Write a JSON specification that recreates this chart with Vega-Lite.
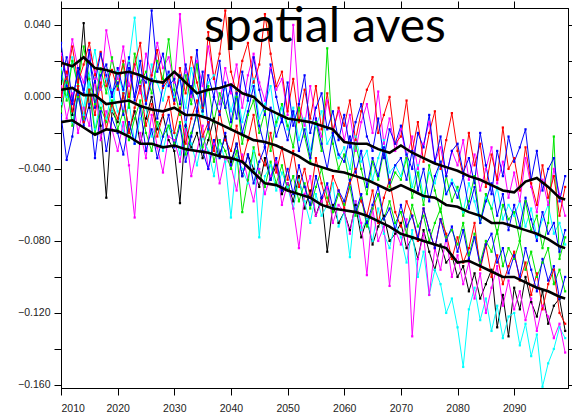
{
"$schema":"https://vega.github.io/schema/vega-lite/v6.json",
"width":507,"height":380,
"autosize":{"type":"none"},
"padding":{"left":61,"top":8,"right":4,"bottom":32},
"background":"white",
"config":{"view":{"stroke":"black","strokeWidth":1},"axis":{"grid":false,"domain":true,"domainColor":"black","tickColor":"black","labelFont":"Liberation Sans","labelFontSize":10.5,"labelColor":"#222","tickSize":7,"title":null}},
"datasets":{
"thin":[
{"s":"k1","x":2010,"y":-0.002},{"s":"k1","x":2011,"y":0.012},{"s":"k1","x":2012,"y":-0.010},{"s":"k1","x":2013,"y":0.006},{"s":"k1","x":2014,"y":0.041},{"s":"k1","x":2015,"y":-0.006},{"s":"k1","x":2016,"y":0.010},{"s":"k1","x":2017,"y":-0.016},{"s":"k1","x":2018,"y":-0.056},{"s":"k1","x":2019,"y":-0.008},
{"s":"k1","x":2020,"y":-0.014},{"s":"k1","x":2021,"y":0.002},{"s":"k1","x":2022,"y":-0.020},{"s":"k1","x":2023,"y":-0.008},{"s":"k1","x":2024,"y":-0.026},{"s":"k1","x":2025,"y":-0.012},{"s":"k1","x":2026,"y":0},{"s":"k1","x":2027,"y":-0.018},{"s":"k1","x":2028,"y":-0.010},{"s":"k1","x":2029,"y":-0.024},
{"s":"k1","x":2030,"y":-0.030},{"s":"k1","x":2031,"y":-0.059},{"s":"k1","x":2032,"y":-0.016},{"s":"k1","x":2033,"y":-0.028},{"s":"k1","x":2034,"y":-0.020},{"s":"k1","x":2035,"y":-0.034},{"s":"k1","x":2036,"y":-0.024},{"s":"k1","x":2037,"y":-0.012},{"s":"k1","x":2038,"y":-0.032},{"s":"k1","x":2039,"y":-0.022},
{"s":"k1","x":2040,"y":-0.036},{"s":"k1","x":2041,"y":-0.026},{"s":"k1","x":2042,"y":-0.044},{"s":"k1","x":2043,"y":-0.032},{"s":"k1","x":2044,"y":-0.040},{"s":"k1","x":2045,"y":-0.050},{"s":"k1","x":2046,"y":-0.034},{"s":"k1","x":2047,"y":-0.046},{"s":"k1","x":2048,"y":-0.038},{"s":"k1","x":2049,"y":-0.054},
{"s":"k1","x":2050,"y":-0.048},{"s":"k1","x":2051,"y":-0.058},{"s":"k1","x":2052,"y":-0.044},{"s":"k1","x":2053,"y":-0.062},{"s":"k1","x":2054,"y":-0.052},{"s":"k1","x":2055,"y":-0.066},{"s":"k1","x":2056,"y":-0.056},{"s":"k1","x":2057,"y":-0.086},{"s":"k1","x":2058,"y":-0.060},{"s":"k1","x":2059,"y":-0.070},
{"s":"k1","x":2060,"y":-0.064},{"s":"k1","x":2061,"y":-0.074},{"s":"k1","x":2062,"y":-0.060},{"s":"k1","x":2063,"y":-0.078},{"s":"k1","x":2064,"y":-0.068},{"s":"k1","x":2065,"y":-0.082},{"s":"k1","x":2066,"y":-0.072},{"s":"k1","x":2067,"y":-0.066},{"s":"k1","x":2068,"y":-0.080},{"s":"k1","x":2069,"y":-0.076},
{"s":"k1","x":2070,"y":-0.070},{"s":"k1","x":2071,"y":-0.084},{"s":"k1","x":2072,"y":-0.078},{"s":"k1","x":2073,"y":-0.090},{"s":"k1","x":2074,"y":-0.074},{"s":"k1","x":2075,"y":-0.086},{"s":"k1","x":2076,"y":-0.096},{"s":"k1","x":2077,"y":-0.082},{"s":"k1","x":2078,"y":-0.092},{"s":"k1","x":2079,"y":-0.088},
{"s":"k1","x":2080,"y":-0.100},{"s":"k1","x":2081,"y":-0.094},{"s":"k1","x":2082,"y":-0.108},{"s":"k1","x":2083,"y":-0.098},{"s":"k1","x":2084,"y":-0.112},{"s":"k1","x":2085,"y":-0.104},{"s":"k1","x":2086,"y":-0.096},{"s":"k1","x":2087,"y":-0.128},{"s":"k1","x":2088,"y":-0.110},{"s":"k1","x":2089,"y":-0.133},
{"s":"k1","x":2090,"y":-0.106},{"s":"k1","x":2091,"y":-0.118},{"s":"k1","x":2092,"y":-0.100},{"s":"k1","x":2093,"y":-0.114},{"s":"k1","x":2094,"y":-0.122},{"s":"k1","x":2095,"y":-0.108},{"s":"k1","x":2096,"y":-0.126},{"s":"k1","x":2097,"y":-0.116},{"s":"k1","x":2098,"y":-0.112},{"s":"k1","x":2099,"y":-0.130},
{"s":"c1","x":2010,"y":-0.004},{"s":"c1","x":2011,"y":0.010},{"s":"c1","x":2012,"y":-0.014},{"s":"c1","x":2013,"y":0.002},{"s":"c1","x":2014,"y":-0.010},{"s":"c1","x":2015,"y":0.008},{"s":"c1","x":2016,"y":-0.018},{"s":"c1","x":2017,"y":-0.002},{"s":"c1","x":2018,"y":-0.012},{"s":"c1","x":2019,"y":0.004},
{"s":"c1","x":2020,"y":-0.008},{"s":"c1","x":2021,"y":-0.020},{"s":"c1","x":2022,"y":-0.002},{"s":"c1","x":2023,"y":-0.026},{"s":"c1","x":2024,"y":-0.012},{"s":"c1","x":2025,"y":-0.006},{"s":"c1","x":2026,"y":-0.022},{"s":"c1","x":2027,"y":-0.014},{"s":"c1","x":2028,"y":-0.030},{"s":"c1","x":2029,"y":-0.016},
{"s":"c1","x":2030,"y":-0.020},{"s":"c1","x":2031,"y":-0.032},{"s":"c1","x":2032,"y":-0.014},{"s":"c1","x":2033,"y":-0.026},{"s":"c1","x":2034,"y":-0.038},{"s":"c1","x":2035,"y":-0.022},{"s":"c1","x":2036,"y":-0.030},{"s":"c1","x":2037,"y":-0.044},{"s":"c1","x":2038,"y":-0.024},{"s":"c1","x":2039,"y":-0.036},
{"s":"c1","x":2040,"y":-0.067},{"s":"c1","x":2041,"y":-0.034},{"s":"c1","x":2042,"y":-0.040},{"s":"c1","x":2043,"y":-0.048},{"s":"c1","x":2044,"y":-0.030},{"s":"c1","x":2045,"y":-0.078},{"s":"c1","x":2046,"y":-0.044},{"s":"c1","x":2047,"y":-0.038},{"s":"c1","x":2048,"y":-0.052},{"s":"c1","x":2049,"y":-0.042},
{"s":"c1","x":2050,"y":-0.050},{"s":"c1","x":2051,"y":-0.062},{"s":"c1","x":2052,"y":-0.046},{"s":"c1","x":2053,"y":-0.058},{"s":"c1","x":2054,"y":-0.070},{"s":"c1","x":2055,"y":-0.054},{"s":"c1","x":2056,"y":-0.066},{"s":"c1","x":2057,"y":-0.060},{"s":"c1","x":2058,"y":-0.048},{"s":"c1","x":2059,"y":-0.072},
{"s":"c1","x":2060,"y":-0.064},{"s":"c1","x":2061,"y":-0.089},{"s":"c1","x":2062,"y":-0.058},{"s":"c1","x":2063,"y":-0.074},{"s":"c1","x":2064,"y":-0.068},{"s":"c1","x":2065,"y":-0.080},{"s":"c1","x":2066,"y":-0.062},{"s":"c1","x":2067,"y":-0.076},{"s":"c1","x":2068,"y":-0.084},{"s":"c1","x":2069,"y":-0.070},
{"s":"c1","x":2070,"y":-0.078},{"s":"c1","x":2071,"y":-0.092},{"s":"c1","x":2072,"y":-0.074},{"s":"c1","x":2073,"y":-0.100},{"s":"c1","x":2074,"y":-0.086},{"s":"c1","x":2075,"y":-0.110},{"s":"c1","x":2076,"y":-0.096},{"s":"c1","x":2077,"y":-0.104},{"s":"c1","x":2078,"y":-0.120},{"s":"c1","x":2079,"y":-0.112},
{"s":"c1","x":2080,"y":-0.128},{"s":"c1","x":2081,"y":-0.150},{"s":"c1","x":2082,"y":-0.118},{"s":"c1","x":2083,"y":-0.106},{"s":"c1","x":2084,"y":-0.124},{"s":"c1","x":2085,"y":-0.112},{"s":"c1","x":2086,"y":-0.130},{"s":"c1","x":2087,"y":-0.116},{"s":"c1","x":2088,"y":-0.134},{"s":"c1","x":2089,"y":-0.122},
{"s":"c1","x":2090,"y":-0.120},{"s":"c1","x":2091,"y":-0.138},{"s":"c1","x":2092,"y":-0.126},{"s":"c1","x":2093,"y":-0.144},{"s":"c1","x":2094,"y":-0.132},{"s":"c1","x":2095,"y":-0.161},{"s":"c1","x":2096,"y":-0.148},{"s":"c1","x":2097,"y":-0.140},{"s":"c1","x":2098,"y":-0.128},{"s":"c1","x":2099,"y":-0.134},
{"s":"c2","x":2010,"y":0.016},{"s":"c2","x":2011,"y":0},{"s":"c2","x":2012,"y":0.022},{"s":"c2","x":2013,"y":0.006},{"s":"c2","x":2014,"y":-0.006},{"s":"c2","x":2015,"y":0.012},{"s":"c2","x":2016,"y":0.026},{"s":"c2","x":2017,"y":0.004},{"s":"c2","x":2018,"y":0.010},{"s":"c2","x":2019,"y":-0.008},
{"s":"c2","x":2020,"y":0.014},{"s":"c2","x":2021,"y":0.002},{"s":"c2","x":2022,"y":0.020},{"s":"c2","x":2023,"y":0.044},{"s":"c2","x":2024,"y":0.006},{"s":"c2","x":2025,"y":-0.004},{"s":"c2","x":2026,"y":0.018},{"s":"c2","x":2027,"y":0.008},{"s":"c2","x":2028,"y":-0.002},{"s":"c2","x":2029,"y":0.012},
{"s":"c2","x":2030,"y":0},{"s":"c2","x":2031,"y":0.010},{"s":"c2","x":2032,"y":-0.006},{"s":"c2","x":2033,"y":0.016},{"s":"c2","x":2034,"y":0.002},{"s":"c2","x":2035,"y":-0.010},{"s":"c2","x":2036,"y":0.008},{"s":"c2","x":2037,"y":0.012},{"s":"c2","x":2038,"y":-0.004},{"s":"c2","x":2039,"y":0.006},
{"s":"c2","x":2040,"y":-0.008},{"s":"c2","x":2041,"y":0.004},{"s":"c2","x":2042,"y":-0.014},{"s":"c2","x":2043,"y":-0.002},{"s":"c2","x":2044,"y":0.010},{"s":"c2","x":2045,"y":-0.012},{"s":"c2","x":2046,"y":-0.004},{"s":"c2","x":2047,"y":0.006},{"s":"c2","x":2048,"y":-0.016},{"s":"c2","x":2049,"y":-0.006},
{"s":"c2","x":2050,"y":-0.018},{"s":"c2","x":2051,"y":-0.006},{"s":"c2","x":2052,"y":-0.024},{"s":"c2","x":2053,"y":-0.012},{"s":"c2","x":2054,"y":-0.030},{"s":"c2","x":2055,"y":-0.016},{"s":"c2","x":2056,"y":-0.008},{"s":"c2","x":2057,"y":-0.026},{"s":"c2","x":2058,"y":-0.020},{"s":"c2","x":2059,"y":-0.034},
{"s":"c2","x":2060,"y":-0.028},{"s":"c2","x":2061,"y":-0.040},{"s":"c2","x":2062,"y":-0.022},{"s":"c2","x":2063,"y":-0.036},{"s":"c2","x":2064,"y":-0.030},{"s":"c2","x":2065,"y":-0.046},{"s":"c2","x":2066,"y":-0.034},{"s":"c2","x":2067,"y":-0.024},{"s":"c2","x":2068,"y":-0.042},{"s":"c2","x":2069,"y":-0.038},
{"s":"c2","x":2070,"y":-0.044},{"s":"c2","x":2071,"y":-0.032},{"s":"c2","x":2072,"y":-0.050},{"s":"c2","x":2073,"y":-0.038},{"s":"c2","x":2074,"y":-0.056},{"s":"c2","x":2075,"y":-0.042},{"s":"c2","x":2076,"y":-0.048},{"s":"c2","x":2077,"y":-0.036},{"s":"c2","x":2078,"y":-0.054},{"s":"c2","x":2079,"y":-0.046},
{"s":"c2","x":2080,"y":-0.052},{"s":"c2","x":2081,"y":-0.064},{"s":"c2","x":2082,"y":-0.048},{"s":"c2","x":2083,"y":-0.058},{"s":"c2","x":2084,"y":-0.070},{"s":"c2","x":2085,"y":-0.056},{"s":"c2","x":2086,"y":-0.062},{"s":"c2","x":2087,"y":-0.050},{"s":"c2","x":2088,"y":-0.068},{"s":"c2","x":2089,"y":-0.060},
{"s":"c2","x":2090,"y":-0.066},{"s":"c2","x":2091,"y":-0.058},{"s":"c2","x":2092,"y":-0.072},{"s":"c2","x":2093,"y":-0.062},{"s":"c2","x":2094,"y":-0.078},{"s":"c2","x":2095,"y":-0.068},{"s":"c2","x":2096,"y":-0.060},{"s":"c2","x":2097,"y":-0.076},{"s":"c2","x":2098,"y":-0.070},{"s":"c2","x":2099,"y":-0.082},
{"s":"m1","x":2010,"y":0.006},{"s":"m1","x":2011,"y":-0.012},{"s":"m1","x":2012,"y":0.002},{"s":"m1","x":2013,"y":-0.020},{"s":"m1","x":2014,"y":-0.006},{"s":"m1","x":2015,"y":-0.016},{"s":"m1","x":2016,"y":0.010},{"s":"m1","x":2017,"y":-0.024},{"s":"m1","x":2018,"y":-0.008},{"s":"m1","x":2019,"y":-0.018},
{"s":"m1","x":2020,"y":-0.030},{"s":"m1","x":2021,"y":-0.014},{"s":"m1","x":2022,"y":-0.038},{"s":"m1","x":2023,"y":-0.067},{"s":"m1","x":2024,"y":-0.020},{"s":"m1","x":2025,"y":-0.034},{"s":"m1","x":2026,"y":-0.010},{"s":"m1","x":2027,"y":-0.028},{"s":"m1","x":2028,"y":-0.042},{"s":"m1","x":2029,"y":-0.022},
{"s":"m1","x":2030,"y":-0.024},{"s":"m1","x":2031,"y":-0.036},{"s":"m1","x":2032,"y":-0.018},{"s":"m1","x":2033,"y":-0.044},{"s":"m1","x":2034,"y":-0.030},{"s":"m1","x":2035,"y":-0.016},{"s":"m1","x":2036,"y":-0.040},{"s":"m1","x":2037,"y":-0.026},{"s":"m1","x":2038,"y":-0.048},{"s":"m1","x":2039,"y":-0.034},
{"s":"m1","x":2040,"y":-0.038},{"s":"m1","x":2041,"y":-0.052},{"s":"m1","x":2042,"y":-0.032},{"s":"m1","x":2043,"y":-0.046},{"s":"m1","x":2044,"y":-0.058},{"s":"m1","x":2045,"y":-0.040},{"s":"m1","x":2046,"y":-0.054},{"s":"m1","x":2047,"y":-0.044},{"s":"m1","x":2048,"y":-0.036},{"s":"m1","x":2049,"y":-0.060},
{"s":"m1","x":2050,"y":-0.048},{"s":"m1","x":2051,"y":-0.062},{"s":"m1","x":2052,"y":-0.084},{"s":"m1","x":2053,"y":-0.054},{"s":"m1","x":2054,"y":-0.044},{"s":"m1","x":2055,"y":-0.066},{"s":"m1","x":2056,"y":-0.058},{"s":"m1","x":2057,"y":-0.050},{"s":"m1","x":2058,"y":-0.070},{"s":"m1","x":2059,"y":-0.060},
{"s":"m1","x":2060,"y":-0.064},{"s":"m1","x":2061,"y":-0.076},{"s":"m1","x":2062,"y":-0.058},{"s":"m1","x":2063,"y":-0.070},{"s":"m1","x":2064,"y":-0.099},{"s":"m1","x":2065,"y":-0.062},{"s":"m1","x":2066,"y":-0.080},{"s":"m1","x":2067,"y":-0.072},{"s":"m1","x":2068,"y":-0.105},{"s":"m1","x":2069,"y":-0.074},
{"s":"m1","x":2070,"y":-0.082},{"s":"m1","x":2071,"y":-0.068},{"s":"m1","x":2072,"y":-0.133},{"s":"m1","x":2073,"y":-0.090},{"s":"m1","x":2074,"y":-0.076},{"s":"m1","x":2075,"y":-0.110},{"s":"m1","x":2076,"y":-0.084},{"s":"m1","x":2077,"y":-0.096},{"s":"m1","x":2078,"y":-0.078},{"s":"m1","x":2079,"y":-0.100},
{"s":"m1","x":2080,"y":-0.088},{"s":"m1","x":2081,"y":-0.104},{"s":"m1","x":2082,"y":-0.092},{"s":"m1","x":2083,"y":-0.112},{"s":"m1","x":2084,"y":-0.098},{"s":"m1","x":2085,"y":-0.120},{"s":"m1","x":2086,"y":-0.106},{"s":"m1","x":2087,"y":-0.094},{"s":"m1","x":2088,"y":-0.116},{"s":"m1","x":2089,"y":-0.102},
{"s":"m1","x":2090,"y":-0.118},{"s":"m1","x":2091,"y":-0.108},{"s":"m1","x":2092,"y":-0.124},{"s":"m1","x":2093,"y":-0.112},{"s":"m1","x":2094,"y":-0.130},{"s":"m1","x":2095,"y":-0.116},{"s":"m1","x":2096,"y":-0.122},{"s":"m1","x":2097,"y":-0.134},{"s":"m1","x":2098,"y":-0.126},{"s":"m1","x":2099,"y":-0.142},
{"s":"m2","x":2010,"y":0.024},{"s":"m2","x":2011,"y":0.012},{"s":"m2","x":2012,"y":0.032},{"s":"m2","x":2013,"y":0.016},{"s":"m2","x":2014,"y":0.008},{"s":"m2","x":2015,"y":0.026},{"s":"m2","x":2016,"y":0.014},{"s":"m2","x":2017,"y":0.004},{"s":"m2","x":2018,"y":0.037},{"s":"m2","x":2019,"y":0.020},
{"s":"m2","x":2020,"y":0.010},{"s":"m2","x":2021,"y":0.028},{"s":"m2","x":2022,"y":0.006},{"s":"m2","x":2023,"y":0.018},{"s":"m2","x":2024,"y":0.002},{"s":"m2","x":2025,"y":0.024},{"s":"m2","x":2026,"y":0.012},{"s":"m2","x":2027,"y":0.030},{"s":"m2","x":2028,"y":0.016},{"s":"m2","x":2029,"y":0.022},
{"s":"m2","x":2030,"y":0.008},{"s":"m2","x":2031,"y":0.046},{"s":"m2","x":2032,"y":0.014},{"s":"m2","x":2033,"y":0},{"s":"m2","x":2034,"y":0.020},{"s":"m2","x":2035,"y":0.006},{"s":"m2","x":2036,"y":0.028},{"s":"m2","x":2037,"y":0.010},{"s":"m2","x":2038,"y":-0.004},{"s":"m2","x":2039,"y":0.016},
{"s":"m2","x":2040,"y":0.002},{"s":"m2","x":2041,"y":0.018},{"s":"m2","x":2042,"y":-0.006},{"s":"m2","x":2043,"y":0.012},{"s":"m2","x":2044,"y":0.024},{"s":"m2","x":2045,"y":0.008},{"s":"m2","x":2046,"y":-0.002},{"s":"m2","x":2047,"y":0.016},{"s":"m2","x":2048,"y":0.004},{"s":"m2","x":2049,"y":0.010},
{"s":"m2","x":2050,"y":-0.010},{"s":"m2","x":2051,"y":0.040},{"s":"m2","x":2052,"y":-0.004},{"s":"m2","x":2053,"y":-0.016},{"s":"m2","x":2054,"y":0.006},{"s":"m2","x":2055,"y":-0.012},{"s":"m2","x":2056,"y":-0.022},{"s":"m2","x":2057,"y":-0.002},{"s":"m2","x":2058,"y":-0.018},{"s":"m2","x":2059,"y":-0.008},
{"s":"m2","x":2060,"y":-0.024},{"s":"m2","x":2061,"y":-0.010},{"s":"m2","x":2062,"y":-0.030},{"s":"m2","x":2063,"y":-0.014},{"s":"m2","x":2064,"y":-0.004},{"s":"m2","x":2065,"y":-0.020},{"s":"m2","x":2066,"y":0.003},{"s":"m2","x":2067,"y":-0.026},{"s":"m2","x":2068,"y":-0.012},{"s":"m2","x":2069,"y":-0.030},
{"s":"m2","x":2070,"y":-0.018},{"s":"m2","x":2071,"y":-0.034},{"s":"m2","x":2072,"y":-0.022},{"s":"m2","x":2073,"y":-0.040},{"s":"m2","x":2074,"y":-0.026},{"s":"m2","x":2075,"y":-0.014},{"s":"m2","x":2076,"y":-0.036},{"s":"m2","x":2077,"y":-0.028},{"s":"m2","x":2078,"y":-0.044},{"s":"m2","x":2079,"y":-0.030},
{"s":"m2","x":2080,"y":-0.038},{"s":"m2","x":2081,"y":-0.024},{"s":"m2","x":2082,"y":-0.046},{"s":"m2","x":2083,"y":-0.032},{"s":"m2","x":2084,"y":-0.052},{"s":"m2","x":2085,"y":-0.040},{"s":"m2","x":2086,"y":-0.028},{"s":"m2","x":2087,"y":-0.048},{"s":"m2","x":2088,"y":-0.036},{"s":"m2","x":2089,"y":-0.056},
{"s":"m2","x":2090,"y":-0.042},{"s":"m2","x":2091,"y":-0.058},{"s":"m2","x":2092,"y":-0.034},{"s":"m2","x":2093,"y":-0.050},{"s":"m2","x":2094,"y":-0.064},{"s":"m2","x":2095,"y":-0.046},{"s":"m2","x":2096,"y":-0.060},{"s":"m2","x":2097,"y":-0.040},{"s":"m2","x":2098,"y":-0.054},{"s":"m2","x":2099,"y":-0.066},
{"s":"g1","x":2010,"y":0.014},{"s":"g1","x":2011,"y":-0.002},{"s":"g1","x":2012,"y":0.020},{"s":"g1","x":2013,"y":0.006},{"s":"g1","x":2014,"y":0.028},{"s":"g1","x":2015,"y":0.010},{"s":"g1","x":2016,"y":-0.004},{"s":"g1","x":2017,"y":0.016},{"s":"g1","x":2018,"y":0.002},{"s":"g1","x":2019,"y":0.022},
{"s":"g1","x":2020,"y":0.006},{"s":"g1","x":2021,"y":0.018},{"s":"g1","x":2022,"y":-0.006},{"s":"g1","x":2023,"y":0.024},{"s":"g1","x":2024,"y":0.008},{"s":"g1","x":2025,"y":0.014},{"s":"g1","x":2026,"y":0.002},{"s":"g1","x":2027,"y":0.020},{"s":"g1","x":2028,"y":0.010},{"s":"g1","x":2029,"y":0.032},
{"s":"g1","x":2030,"y":0.004},{"s":"g1","x":2031,"y":-0.010},{"s":"g1","x":2032,"y":0.012},{"s":"g1","x":2033,"y":-0.004},{"s":"g1","x":2034,"y":0.018},{"s":"g1","x":2035,"y":-0.008},{"s":"g1","x":2036,"y":0.006},{"s":"g1","x":2037,"y":-0.014},{"s":"g1","x":2038,"y":0.002},{"s":"g1","x":2039,"y":-0.006},
{"s":"g1","x":2040,"y":-0.018},{"s":"g1","x":2041,"y":0},{"s":"g1","x":2042,"y":-0.026},{"s":"g1","x":2043,"y":-0.010},{"s":"g1","x":2044,"y":-0.002},{"s":"g1","x":2045,"y":-0.020},{"s":"g1","x":2046,"y":-0.008},{"s":"g1","x":2047,"y":-0.030},{"s":"g1","x":2048,"y":-0.014},{"s":"g1","x":2049,"y":-0.004},
{"s":"g1","x":2050,"y":-0.016},{"s":"g1","x":2051,"y":-0.028},{"s":"g1","x":2052,"y":-0.006},{"s":"g1","x":2053,"y":-0.022},{"s":"g1","x":2054,"y":-0.036},{"s":"g1","x":2055,"y":-0.014},{"s":"g1","x":2056,"y":-0.030},{"s":"g1","x":2057,"y":0.027},{"s":"g1","x":2058,"y":-0.026},{"s":"g1","x":2059,"y":-0.040},
{"s":"g1","x":2060,"y":-0.032},{"s":"g1","x":2061,"y":-0.048},{"s":"g1","x":2062,"y":-0.026},{"s":"g1","x":2063,"y":-0.040},{"s":"g1","x":2064,"y":-0.054},{"s":"g1","x":2065,"y":-0.036},{"s":"g1","x":2066,"y":-0.046},{"s":"g1","x":2067,"y":-0.030},{"s":"g1","x":2068,"y":-0.050},{"s":"g1","x":2069,"y":-0.042},
{"s":"g1","x":2070,"y":-0.046},{"s":"g1","x":2071,"y":-0.034},{"s":"g1","x":2072,"y":-0.056},{"s":"g1","x":2073,"y":-0.042},{"s":"g1","x":2074,"y":-0.060},{"s":"g1","x":2075,"y":-0.038},{"s":"g1","x":2076,"y":-0.052},{"s":"g1","x":2077,"y":-0.064},{"s":"g1","x":2078,"y":-0.044},{"s":"g1","x":2079,"y":-0.058},
{"s":"g1","x":2080,"y":-0.050},{"s":"g1","x":2081,"y":-0.066},{"s":"g1","x":2082,"y":-0.058},{"s":"g1","x":2083,"y":-0.044},{"s":"g1","x":2084,"y":-0.070},{"s":"g1","x":2085,"y":-0.054},{"s":"g1","x":2086,"y":-0.062},{"s":"g1","x":2087,"y":-0.076},{"s":"g1","x":2088,"y":-0.060},{"s":"g1","x":2089,"y":-0.068},
{"s":"g1","x":2090,"y":-0.064},{"s":"g1","x":2091,"y":-0.080},{"s":"g1","x":2092,"y":-0.058},{"s":"g1","x":2093,"y":-0.074},{"s":"g1","x":2094,"y":-0.066},{"s":"g1","x":2095,"y":-0.084},{"s":"g1","x":2096,"y":-0.070},{"s":"g1","x":2097,"y":-0.022},{"s":"g1","x":2098,"y":-0.090},{"s":"g1","x":2099,"y":-0.078},
{"s":"g2","x":2010,"y":-0.008},{"s":"g2","x":2011,"y":0.008},{"s":"g2","x":2012,"y":-0.016},{"s":"g2","x":2013,"y":0},{"s":"g2","x":2014,"y":-0.012},{"s":"g2","x":2015,"y":0.004},{"s":"g2","x":2016,"y":-0.020},{"s":"g2","x":2017,"y":-0.006},{"s":"g2","x":2018,"y":-0.014},{"s":"g2","x":2019,"y":-0.002},
{"s":"g2","x":2020,"y":-0.018},{"s":"g2","x":2021,"y":-0.008},{"s":"g2","x":2022,"y":-0.024},{"s":"g2","x":2023,"y":-0.012},{"s":"g2","x":2024,"y":-0.002},{"s":"g2","x":2025,"y":-0.020},{"s":"g2","x":2026,"y":-0.030},{"s":"g2","x":2027,"y":-0.014},{"s":"g2","x":2028,"y":-0.022},{"s":"g2","x":2029,"y":-0.016},
{"s":"g2","x":2030,"y":-0.026},{"s":"g2","x":2031,"y":-0.014},{"s":"g2","x":2032,"y":-0.032},{"s":"g2","x":2033,"y":-0.020},{"s":"g2","x":2034,"y":-0.010},{"s":"g2","x":2035,"y":-0.028},{"s":"g2","x":2036,"y":-0.018},{"s":"g2","x":2037,"y":-0.036},{"s":"g2","x":2038,"y":-0.024},{"s":"g2","x":2039,"y":-0.030},
{"s":"g2","x":2040,"y":-0.040},{"s":"g2","x":2041,"y":-0.030},{"s":"g2","x":2042,"y":-0.064},{"s":"g2","x":2043,"y":-0.046},{"s":"g2","x":2044,"y":-0.028},{"s":"g2","x":2045,"y":-0.042},{"s":"g2","x":2046,"y":-0.050},{"s":"g2","x":2047,"y":-0.036},{"s":"g2","x":2048,"y":-0.048},{"s":"g2","x":2049,"y":-0.038},
{"s":"g2","x":2050,"y":-0.052},{"s":"g2","x":2051,"y":-0.044},{"s":"g2","x":2052,"y":-0.058},{"s":"g2","x":2053,"y":-0.048},{"s":"g2","x":2054,"y":-0.062},{"s":"g2","x":2055,"y":-0.050},{"s":"g2","x":2056,"y":-0.040},{"s":"g2","x":2057,"y":-0.056},{"s":"g2","x":2058,"y":-0.064},{"s":"g2","x":2059,"y":-0.054},
{"s":"g2","x":2060,"y":-0.060},{"s":"g2","x":2061,"y":-0.050},{"s":"g2","x":2062,"y":-0.066},{"s":"g2","x":2063,"y":-0.056},{"s":"g2","x":2064,"y":-0.072},{"s":"g2","x":2065,"y":-0.062},{"s":"g2","x":2066,"y":-0.054},{"s":"g2","x":2067,"y":-0.068},{"s":"g2","x":2068,"y":-0.058},{"s":"g2","x":2069,"y":-0.070},
{"s":"g2","x":2070,"y":-0.064},{"s":"g2","x":2071,"y":-0.076},{"s":"g2","x":2072,"y":-0.060},{"s":"g2","x":2073,"y":-0.072},{"s":"g2","x":2074,"y":-0.066},{"s":"g2","x":2075,"y":-0.080},{"s":"g2","x":2076,"y":-0.070},{"s":"g2","x":2077,"y":-0.062},{"s":"g2","x":2078,"y":-0.078},{"s":"g2","x":2079,"y":-0.074},
{"s":"g2","x":2080,"y":-0.082},{"s":"g2","x":2081,"y":-0.070},{"s":"g2","x":2082,"y":-0.088},{"s":"g2","x":2083,"y":-0.076},{"s":"g2","x":2084,"y":-0.092},{"s":"g2","x":2085,"y":-0.080},{"s":"g2","x":2086,"y":-0.086},{"s":"g2","x":2087,"y":-0.074},{"s":"g2","x":2088,"y":-0.094},{"s":"g2","x":2089,"y":-0.084},
{"s":"g2","x":2090,"y":-0.090},{"s":"g2","x":2091,"y":-0.080},{"s":"g2","x":2092,"y":-0.096},{"s":"g2","x":2093,"y":-0.086},{"s":"g2","x":2094,"y":-0.100},{"s":"g2","x":2095,"y":-0.092},{"s":"g2","x":2096,"y":-0.084},{"s":"g2","x":2097,"y":-0.104},{"s":"g2","x":2098,"y":-0.096},{"s":"g2","x":2099,"y":-0.108},
{"s":"r1","x":2010,"y":0.022},{"s":"r1","x":2011,"y":0.010},{"s":"r1","x":2012,"y":0.028},{"s":"r1","x":2013,"y":0.008},{"s":"r1","x":2014,"y":0.018},{"s":"r1","x":2015,"y":0.030},{"s":"r1","x":2016,"y":0.012},{"s":"r1","x":2017,"y":0.025},{"s":"r1","x":2018,"y":0.006},{"s":"r1","x":2019,"y":0.015},
{"s":"r1","x":2020,"y":0.004},{"s":"r1","x":2021,"y":0.020},{"s":"r1","x":2022,"y":0},{"s":"r1","x":2023,"y":0.018},{"s":"r1","x":2024,"y":0.030},{"s":"r1","x":2025,"y":-0.002},{"s":"r1","x":2026,"y":0.012},{"s":"r1","x":2027,"y":0.026},{"s":"r1","x":2028,"y":0.005},{"s":"r1","x":2029,"y":0.010},
{"s":"r1","x":2030,"y":-0.004},{"s":"r1","x":2031,"y":0.016},{"s":"r1","x":2032,"y":0.002},{"s":"r1","x":2033,"y":0.022},{"s":"r1","x":2034,"y":0.008},{"s":"r1","x":2035,"y":-0.006},{"s":"r1","x":2036,"y":0.036},{"s":"r1","x":2037,"y":0.010},{"s":"r1","x":2038,"y":0.024},{"s":"r1","x":2039,"y":0.048},
{"s":"r1","x":2040,"y":0.014},{"s":"r1","x":2041,"y":0.002},{"s":"r1","x":2042,"y":0.020},{"s":"r1","x":2043,"y":0.030},{"s":"r1","x":2044,"y":0.008},{"s":"r1","x":2045,"y":0.018},{"s":"r1","x":2046,"y":0.046},{"s":"r1","x":2047,"y":0.024},{"s":"r1","x":2048,"y":0.006},{"s":"r1","x":2049,"y":0.014},
{"s":"r1","x":2050,"y":-0.008},{"s":"r1","x":2051,"y":0.010},{"s":"r1","x":2052,"y":-0.014},{"s":"r1","x":2053,"y":0.004},{"s":"r1","x":2054,"y":-0.012},{"s":"r1","x":2055,"y":0.006},{"s":"r1","x":2056,"y":-0.018},{"s":"r1","x":2057,"y":0.002},{"s":"r1","x":2058,"y":-0.020},{"s":"r1","x":2059,"y":-0.006},
{"s":"r1","x":2060,"y":-0.016},{"s":"r1","x":2061,"y":-0.002},{"s":"r1","x":2062,"y":-0.024},{"s":"r1","x":2063,"y":-0.008},{"s":"r1","x":2064,"y":0.004},{"s":"r1","x":2065,"y":0.011},{"s":"r1","x":2066,"y":-0.020},{"s":"r1","x":2067,"y":-0.010},{"s":"r1","x":2068,"y":0},{"s":"r1","x":2069,"y":-0.026},
{"s":"r1","x":2070,"y":-0.022},{"s":"r1","x":2071,"y":-0.002},{"s":"r1","x":2072,"y":-0.030},{"s":"r1","x":2073,"y":-0.014},{"s":"r1","x":2074,"y":-0.036},{"s":"r1","x":2075,"y":-0.020},{"s":"r1","x":2076,"y":-0.008},{"s":"r1","x":2077,"y":-0.040},{"s":"r1","x":2078,"y":-0.024},{"s":"r1","x":2079,"y":-0.009},
{"s":"r1","x":2080,"y":-0.030},{"s":"r1","x":2081,"y":-0.044},{"s":"r1","x":2082,"y":-0.020},{"s":"r1","x":2083,"y":-0.038},{"s":"r1","x":2084,"y":-0.026},{"s":"r1","x":2085,"y":-0.050},{"s":"r1","x":2086,"y":-0.032},{"s":"r1","x":2087,"y":-0.046},{"s":"r1","x":2088,"y":-0.017},{"s":"r1","x":2089,"y":-0.040},
{"s":"r1","x":2090,"y":-0.034},{"s":"r1","x":2091,"y":-0.052},{"s":"r1","x":2092,"y":-0.028},{"s":"r1","x":2093,"y":-0.048},{"s":"r1","x":2094,"y":-0.060},{"s":"r1","x":2095,"y":-0.038},{"s":"r1","x":2096,"y":-0.056},{"s":"r1","x":2097,"y":-0.044},{"s":"r1","x":2098,"y":-0.066},{"s":"r1","x":2099,"y":-0.050},
{"s":"r2","x":2010,"y":0},{"s":"r2","x":2011,"y":0.014},{"s":"r2","x":2012,"y":-0.008},{"s":"r2","x":2013,"y":0.006},{"s":"r2","x":2014,"y":-0.014},{"s":"r2","x":2015,"y":0.004},{"s":"r2","x":2016,"y":-0.010},{"s":"r2","x":2017,"y":0.008},{"s":"r2","x":2018,"y":-0.018},{"s":"r2","x":2019,"y":-0.004},
{"s":"r2","x":2020,"y":-0.012},{"s":"r2","x":2021,"y":0.002},{"s":"r2","x":2022,"y":-0.020},{"s":"r2","x":2023,"y":-0.006},{"s":"r2","x":2024,"y":0.006},{"s":"r2","x":2025,"y":-0.016},{"s":"r2","x":2026,"y":-0.004},{"s":"r2","x":2027,"y":-0.022},{"s":"r2","x":2028,"y":-0.010},{"s":"r2","x":2029,"y":0},
{"s":"r2","x":2030,"y":-0.020},{"s":"r2","x":2031,"y":-0.006},{"s":"r2","x":2032,"y":-0.026},{"s":"r2","x":2033,"y":-0.012},{"s":"r2","x":2034,"y":-0.002},{"s":"r2","x":2035,"y":-0.022},{"s":"r2","x":2036,"y":-0.014},{"s":"r2","x":2037,"y":-0.030},{"s":"r2","x":2038,"y":-0.008},{"s":"r2","x":2039,"y":-0.024},
{"s":"r2","x":2040,"y":-0.030},{"s":"r2","x":2041,"y":-0.016},{"s":"r2","x":2042,"y":-0.036},{"s":"r2","x":2043,"y":-0.024},{"s":"r2","x":2044,"y":-0.010},{"s":"r2","x":2045,"y":-0.032},{"s":"r2","x":2046,"y":-0.038},{"s":"r2","x":2047,"y":-0.020},{"s":"r2","x":2048,"y":-0.042},{"s":"r2","x":2049,"y":-0.028},
{"s":"r2","x":2050,"y":-0.046},{"s":"r2","x":2051,"y":-0.030},{"s":"r2","x":2052,"y":-0.050},{"s":"r2","x":2053,"y":-0.040},{"s":"r2","x":2054,"y":-0.056},{"s":"r2","x":2055,"y":-0.034},{"s":"r2","x":2056,"y":-0.048},{"s":"r2","x":2057,"y":-0.060},{"s":"r2","x":2058,"y":-0.044},{"s":"r2","x":2059,"y":-0.052},
{"s":"r2","x":2060,"y":-0.062},{"s":"r2","x":2061,"y":-0.048},{"s":"r2","x":2062,"y":-0.040},{"s":"r2","x":2063,"y":-0.058},{"s":"r2","x":2064,"y":-0.066},{"s":"r2","x":2065,"y":-0.052},{"s":"r2","x":2066,"y":-0.070},{"s":"r2","x":2067,"y":-0.056},{"s":"r2","x":2068,"y":-0.046},{"s":"r2","x":2069,"y":-0.064},
{"s":"r2","x":2070,"y":-0.072},{"s":"r2","x":2071,"y":-0.058},{"s":"r2","x":2072,"y":-0.066},{"s":"r2","x":2073,"y":-0.080},{"s":"r2","x":2074,"y":-0.062},{"s":"r2","x":2075,"y":-0.074},{"s":"r2","x":2076,"y":-0.084},{"s":"r2","x":2077,"y":-0.068},{"s":"r2","x":2078,"y":-0.076},{"s":"r2","x":2079,"y":-0.090},
{"s":"r2","x":2080,"y":-0.078},{"s":"r2","x":2081,"y":-0.092},{"s":"r2","x":2082,"y":-0.084},{"s":"r2","x":2083,"y":-0.070},{"s":"r2","x":2084,"y":-0.096},{"s":"r2","x":2085,"y":-0.082},{"s":"r2","x":2086,"y":-0.100},{"s":"r2","x":2087,"y":-0.088},{"s":"r2","x":2088,"y":-0.104},{"s":"r2","x":2089,"y":-0.094},
{"s":"r2","x":2090,"y":-0.086},{"s":"r2","x":2091,"y":-0.102},{"s":"r2","x":2092,"y":-0.092},{"s":"r2","x":2093,"y":-0.110},{"s":"r2","x":2094,"y":-0.098},{"s":"r2","x":2095,"y":-0.118},{"s":"r2","x":2096,"y":-0.104},{"s":"r2","x":2097,"y":-0.096},{"s":"r2","x":2098,"y":-0.120},{"s":"r2","x":2099,"y":-0.126},
{"s":"b1","x":2010,"y":0.030},{"s":"b1","x":2011,"y":0.006},{"s":"b1","x":2012,"y":-0.004},{"s":"b1","x":2013,"y":0.016},{"s":"b1","x":2014,"y":0.002},{"s":"b1","x":2015,"y":0.020},{"s":"b1","x":2016,"y":0.008},{"s":"b1","x":2017,"y":0.024},{"s":"b1","x":2018,"y":0.012},{"s":"b1","x":2019,"y":0},
{"s":"b1","x":2020,"y":0.016},{"s":"b1","x":2021,"y":0.004},{"s":"b1","x":2022,"y":0.022},{"s":"b1","x":2023,"y":-0.002},{"s":"b1","x":2024,"y":0.012},{"s":"b1","x":2025,"y":0.008},{"s":"b1","x":2026,"y":0.048},{"s":"b1","x":2027,"y":0.014},{"s":"b1","x":2028,"y":0.024},{"s":"b1","x":2029,"y":0.006},
{"s":"b1","x":2030,"y":0.010},{"s":"b1","x":2031,"y":-0.004},{"s":"b1","x":2032,"y":0.018},{"s":"b1","x":2033,"y":0.002},{"s":"b1","x":2034,"y":0.026},{"s":"b1","x":2035,"y":-0.008},{"s":"b1","x":2036,"y":0.012},{"s":"b1","x":2037,"y":0},{"s":"b1","x":2038,"y":0.020},{"s":"b1","x":2039,"y":-0.006},
{"s":"b1","x":2040,"y":0.006},{"s":"b1","x":2041,"y":-0.012},{"s":"b1","x":2042,"y":0.014},{"s":"b1","x":2043,"y":-0.002},{"s":"b1","x":2044,"y":0.022},{"s":"b1","x":2045,"y":0.004},{"s":"b1","x":2046,"y":-0.010},{"s":"b1","x":2047,"y":0.018},{"s":"b1","x":2048,"y":0},{"s":"b1","x":2049,"y":-0.014},
{"s":"b1","x":2050,"y":0.008},{"s":"b1","x":2051,"y":-0.016},{"s":"b1","x":2052,"y":-0.004},{"s":"b1","x":2053,"y":0.012},{"s":"b1","x":2054,"y":-0.020},{"s":"b1","x":2055,"y":-0.006},{"s":"b1","x":2056,"y":0.002},{"s":"b1","x":2057,"y":-0.018},{"s":"b1","x":2058,"y":-0.008},{"s":"b1","x":2059,"y":-0.024},
{"s":"b1","x":2060,"y":-0.010},{"s":"b1","x":2061,"y":-0.028},{"s":"b1","x":2062,"y":-0.014},{"s":"b1","x":2063,"y":-0.004},{"s":"b1","x":2064,"y":-0.022},{"s":"b1","x":2065,"y":-0.030},{"s":"b1","x":2066,"y":-0.012},{"s":"b1","x":2067,"y":-0.034},{"s":"b1","x":2068,"y":-0.018},{"s":"b1","x":2069,"y":-0.026},
{"s":"b1","x":2070,"y":-0.016},{"s":"b1","x":2071,"y":-0.032},{"s":"b1","x":2072,"y":-0.040},{"s":"b1","x":2073,"y":-0.020},{"s":"b1","x":2074,"y":-0.028},{"s":"b1","x":2075,"y":-0.010},{"s":"b1","x":2076,"y":-0.036},{"s":"b1","x":2077,"y":-0.022},{"s":"b1","x":2078,"y":-0.044},{"s":"b1","x":2079,"y":-0.030},
{"s":"b1","x":2080,"y":-0.026},{"s":"b1","x":2081,"y":-0.042},{"s":"b1","x":2082,"y":-0.034},{"s":"b1","x":2083,"y":-0.048},{"s":"b1","x":2084,"y":-0.020},{"s":"b1","x":2085,"y":-0.038},{"s":"b1","x":2086,"y":-0.054},{"s":"b1","x":2087,"y":-0.030},{"s":"b1","x":2088,"y":-0.044},{"s":"b1","x":2089,"y":-0.022},
{"s":"b1","x":2090,"y":-0.036},{"s":"b1","x":2091,"y":-0.028},{"s":"b1","x":2092,"y":-0.018},{"s":"b1","x":2093,"y":-0.046},{"s":"b1","x":2094,"y":-0.030},{"s":"b1","x":2095,"y":-0.052},{"s":"b1","x":2096,"y":-0.040},{"s":"b1","x":2097,"y":-0.034},{"s":"b1","x":2098,"y":-0.058},{"s":"b1","x":2099,"y":-0.044},
{"s":"b2","x":2010,"y":-0.010},{"s":"b2","x":2011,"y":-0.035},{"s":"b2","x":2012,"y":-0.022},{"s":"b2","x":2013,"y":0.002},{"s":"b2","x":2014,"y":-0.016},{"s":"b2","x":2015,"y":-0.004},{"s":"b2","x":2016,"y":-0.034},{"s":"b2","x":2017,"y":-0.008},{"s":"b2","x":2018,"y":-0.030},{"s":"b2","x":2019,"y":-0.012},
{"s":"b2","x":2020,"y":-0.020},{"s":"b2","x":2021,"y":-0.032},{"s":"b2","x":2022,"y":-0.014},{"s":"b2","x":2023,"y":-0.026},{"s":"b2","x":2024,"y":-0.006},{"s":"b2","x":2025,"y":-0.030},{"s":"b2","x":2026,"y":-0.018},{"s":"b2","x":2027,"y":-0.034},{"s":"b2","x":2028,"y":-0.022},{"s":"b2","x":2029,"y":-0.010},
{"s":"b2","x":2030,"y":-0.028},{"s":"b2","x":2031,"y":-0.016},{"s":"b2","x":2032,"y":-0.036},{"s":"b2","x":2033,"y":-0.022},{"s":"b2","x":2034,"y":-0.008},{"s":"b2","x":2035,"y":-0.030},{"s":"b2","x":2036,"y":-0.040},{"s":"b2","x":2037,"y":-0.024},{"s":"b2","x":2038,"y":-0.034},{"s":"b2","x":2039,"y":-0.020},
{"s":"b2","x":2040,"y":-0.038},{"s":"b2","x":2041,"y":-0.026},{"s":"b2","x":2042,"y":-0.044},{"s":"b2","x":2043,"y":-0.032},{"s":"b2","x":2044,"y":-0.048},{"s":"b2","x":2045,"y":-0.036},{"s":"b2","x":2046,"y":-0.028},{"s":"b2","x":2047,"y":-0.046},{"s":"b2","x":2048,"y":-0.034},{"s":"b2","x":2049,"y":-0.052},
{"s":"b2","x":2050,"y":-0.040},{"s":"b2","x":2051,"y":-0.054},{"s":"b2","x":2052,"y":-0.038},{"s":"b2","x":2053,"y":-0.050},{"s":"b2","x":2054,"y":-0.060},{"s":"b2","x":2055,"y":-0.044},{"s":"b2","x":2056,"y":-0.056},{"s":"b2","x":2057,"y":-0.048},{"s":"b2","x":2058,"y":-0.062},{"s":"b2","x":2059,"y":-0.052},
{"s":"b2","x":2060,"y":-0.058},{"s":"b2","x":2061,"y":-0.046},{"s":"b2","x":2062,"y":-0.064},{"s":"b2","x":2063,"y":-0.054},{"s":"b2","x":2064,"y":-0.070},{"s":"b2","x":2065,"y":-0.060},{"s":"b2","x":2066,"y":-0.050},{"s":"b2","x":2067,"y":-0.068},{"s":"b2","x":2068,"y":-0.062},{"s":"b2","x":2069,"y":-0.074},
{"s":"b2","x":2070,"y":-0.060},{"s":"b2","x":2071,"y":-0.072},{"s":"b2","x":2072,"y":-0.066},{"s":"b2","x":2073,"y":-0.078},{"s":"b2","x":2074,"y":-0.062},{"s":"b2","x":2075,"y":-0.074},{"s":"b2","x":2076,"y":-0.084},{"s":"b2","x":2077,"y":-0.068},{"s":"b2","x":2078,"y":-0.080},{"s":"b2","x":2079,"y":-0.072},
{"s":"b2","x":2080,"y":-0.086},{"s":"b2","x":2081,"y":-0.074},{"s":"b2","x":2082,"y":-0.090},{"s":"b2","x":2083,"y":-0.078},{"s":"b2","x":2084,"y":-0.094},{"s":"b2","x":2085,"y":-0.082},{"s":"b2","x":2086,"y":-0.076},{"s":"b2","x":2087,"y":-0.092},{"s":"b2","x":2088,"y":-0.084},{"s":"b2","x":2089,"y":-0.098},
{"s":"b2","x":2090,"y":-0.088},{"s":"b2","x":2091,"y":-0.100},{"s":"b2","x":2092,"y":-0.084},{"s":"b2","x":2093,"y":-0.096},{"s":"b2","x":2094,"y":-0.108},{"s":"b2","x":2095,"y":-0.090},{"s":"b2","x":2096,"y":-0.102},{"s":"b2","x":2097,"y":-0.094},{"s":"b2","x":2098,"y":-0.112},{"s":"b2","x":2099,"y":-0.100},
{"s":"b3","x":2010,"y":0.010},{"s":"b3","x":2011,"y":0.022},{"s":"b3","x":2012,"y":-0.002},{"s":"b3","x":2013,"y":0.014},{"s":"b3","x":2014,"y":0.004},{"s":"b3","x":2015,"y":0.026},{"s":"b3","x":2016,"y":-0.006},{"s":"b3","x":2017,"y":0.012},{"s":"b3","x":2018,"y":0.018},{"s":"b3","x":2019,"y":0.002},
{"s":"b3","x":2020,"y":0.008},{"s":"b3","x":2021,"y":-0.010},{"s":"b3","x":2022,"y":0.016},{"s":"b3","x":2023,"y":0},{"s":"b3","x":2024,"y":0.020},{"s":"b3","x":2025,"y":-0.004},{"s":"b3","x":2026,"y":0.010},{"s":"b3","x":2027,"y":-0.012},{"s":"b3","x":2028,"y":0.006},{"s":"b3","x":2029,"y":0.014},
{"s":"b3","x":2030,"y":-0.002},{"s":"b3","x":2031,"y":0.012},{"s":"b3","x":2032,"y":-0.016},{"s":"b3","x":2033,"y":0.006},{"s":"b3","x":2034,"y":-0.008},{"s":"b3","x":2035,"y":0.014},{"s":"b3","x":2036,"y":-0.018},{"s":"b3","x":2037,"y":0},{"s":"b3","x":2038,"y":-0.010},{"s":"b3","x":2039,"y":0.008},
{"s":"b3","x":2040,"y":-0.014},{"s":"b3","x":2041,"y":0.002},{"s":"b3","x":2042,"y":-0.020},{"s":"b3","x":2043,"y":-0.008},{"s":"b3","x":2044,"y":0.006},{"s":"b3","x":2045,"y":-0.016},{"s":"b3","x":2046,"y":-0.028},{"s":"b3","x":2047,"y":-0.006},{"s":"b3","x":2048,"y":-0.022},{"s":"b3","x":2049,"y":-0.012},
{"s":"b3","x":2050,"y":-0.024},{"s":"b3","x":2051,"y":-0.008},{"s":"b3","x":2052,"y":-0.030},{"s":"b3","x":2053,"y":-0.018},{"s":"b3","x":2054,"y":-0.034},{"s":"b3","x":2055,"y":-0.012},{"s":"b3","x":2056,"y":-0.026},{"s":"b3","x":2057,"y":-0.040},{"s":"b3","x":2058,"y":-0.020},{"s":"b3","x":2059,"y":-0.032},
{"s":"b3","x":2060,"y":-0.036},{"s":"b3","x":2061,"y":-0.022},{"s":"b3","x":2062,"y":-0.042},{"s":"b3","x":2063,"y":-0.030},{"s":"b3","x":2064,"y":-0.050},{"s":"b3","x":2065,"y":-0.034},{"s":"b3","x":2066,"y":-0.044},{"s":"b3","x":2067,"y":-0.028},{"s":"b3","x":2068,"y":-0.048},{"s":"b3","x":2069,"y":-0.038},
{"s":"b3","x":2070,"y":-0.034},{"s":"b3","x":2071,"y":-0.046},{"s":"b3","x":2072,"y":-0.030},{"s":"b3","x":2073,"y":-0.052},{"s":"b3","x":2074,"y":-0.040},{"s":"b3","x":2075,"y":-0.058},{"s":"b3","x":2076,"y":-0.044},{"s":"b3","x":2077,"y":-0.036},{"s":"b3","x":2078,"y":-0.054},{"s":"b3","x":2079,"y":-0.048},
{"s":"b3","x":2080,"y":-0.056},{"s":"b3","x":2081,"y":-0.044},{"s":"b3","x":2082,"y":-0.062},{"s":"b3","x":2083,"y":-0.050},{"s":"b3","x":2084,"y":-0.070},{"s":"b3","x":2085,"y":-0.058},{"s":"b3","x":2086,"y":-0.048},{"s":"b3","x":2087,"y":-0.066},{"s":"b3","x":2088,"y":-0.054},{"s":"b3","x":2089,"y":-0.074},
{"s":"b3","x":2090,"y":-0.060},{"s":"b3","x":2091,"y":-0.072},{"s":"b3","x":2092,"y":-0.056},{"s":"b3","x":2093,"y":-0.068},{"s":"b3","x":2094,"y":-0.080},{"s":"b3","x":2095,"y":-0.064},{"s":"b3","x":2096,"y":-0.076},{"s":"b3","x":2097,"y":-0.070},{"s":"b3","x":2098,"y":-0.086},{"s":"b3","x":2099,"y":-0.074}
],
"thick":[
{"s":"u","x":2010,"y":0.019},{"s":"u","x":2012,"y":0.017},{"s":"u","x":2014,"y":0.022},{"s":"u","x":2016,"y":0.016},{"s":"u","x":2018,"y":0.015},{"s":"u","x":2020,"y":0.013},{"s":"u","x":2022,"y":0.014},{"s":"u","x":2024,"y":0.012},{"s":"u","x":2026,"y":0.009},{"s":"u","x":2028,"y":0.008},
{"s":"u","x":2030,"y":0.014},{"s":"u","x":2032,"y":0.008},{"s":"u","x":2034,"y":0.002},{"s":"u","x":2036,"y":0.004},{"s":"u","x":2038,"y":0.005},{"s":"u","x":2040,"y":0.007},{"s":"u","x":2042,"y":0.002},{"s":"u","x":2044,"y":0},{"s":"u","x":2046,"y":-0.006},{"s":"u","x":2048,"y":-0.009},
{"s":"u","x":2050,"y":-0.012},{"s":"u","x":2052,"y":-0.013},{"s":"u","x":2054,"y":-0.014},{"s":"u","x":2056,"y":-0.016},{"s":"u","x":2058,"y":-0.018},{"s":"u","x":2060,"y":-0.025},{"s":"u","x":2062,"y":-0.026},{"s":"u","x":2064,"y":-0.026},{"s":"u","x":2066,"y":-0.029},{"s":"u","x":2068,"y":-0.031},
{"s":"u","x":2070,"y":-0.027},{"s":"u","x":2072,"y":-0.031},{"s":"u","x":2074,"y":-0.034},{"s":"u","x":2076,"y":-0.037},{"s":"u","x":2078,"y":-0.039},{"s":"u","x":2080,"y":-0.041},{"s":"u","x":2082,"y":-0.044},{"s":"u","x":2084,"y":-0.046},{"s":"u","x":2086,"y":-0.049},{"s":"u","x":2088,"y":-0.052},
{"s":"u","x":2090,"y":-0.053},{"s":"u","x":2092,"y":-0.047},{"s":"u","x":2094,"y":-0.045},{"s":"u","x":2096,"y":-0.050},{"s":"u","x":2098,"y":-0.056},{"s":"u","x":2099,"y":-0.057},
{"s":"m","x":2010,"y":0.004},{"s":"m","x":2012,"y":0.005},{"s":"m","x":2014,"y":0.001},{"s":"m","x":2016,"y":0.001},{"s":"m","x":2018,"y":-0.004},{"s":"m","x":2020,"y":-0.003},{"s":"m","x":2022,"y":-0.002},{"s":"m","x":2024,"y":-0.005},{"s":"m","x":2026,"y":-0.007},{"s":"m","x":2028,"y":-0.008},
{"s":"m","x":2030,"y":-0.006},{"s":"m","x":2032,"y":-0.010},{"s":"m","x":2034,"y":-0.010},{"s":"m","x":2036,"y":-0.012},{"s":"m","x":2038,"y":-0.015},{"s":"m","x":2040,"y":-0.018},{"s":"m","x":2042,"y":-0.021},{"s":"m","x":2044,"y":-0.024},{"s":"m","x":2046,"y":-0.025},{"s":"m","x":2048,"y":-0.027},
{"s":"m","x":2050,"y":-0.030},{"s":"m","x":2052,"y":-0.033},{"s":"m","x":2054,"y":-0.037},{"s":"m","x":2056,"y":-0.039},{"s":"m","x":2058,"y":-0.041},{"s":"m","x":2060,"y":-0.042},{"s":"m","x":2062,"y":-0.044},{"s":"m","x":2064,"y":-0.046},{"s":"m","x":2066,"y":-0.049},{"s":"m","x":2068,"y":-0.052},
{"s":"m","x":2070,"y":-0.049},{"s":"m","x":2072,"y":-0.052},{"s":"m","x":2074,"y":-0.055},{"s":"m","x":2076,"y":-0.056},{"s":"m","x":2078,"y":-0.060},{"s":"m","x":2080,"y":-0.061},{"s":"m","x":2082,"y":-0.064},{"s":"m","x":2084,"y":-0.066},{"s":"m","x":2086,"y":-0.070},{"s":"m","x":2088,"y":-0.070},
{"s":"m","x":2090,"y":-0.072},{"s":"m","x":2092,"y":-0.074},{"s":"m","x":2094,"y":-0.076},{"s":"m","x":2096,"y":-0.079},{"s":"m","x":2098,"y":-0.083},{"s":"m","x":2099,"y":-0.084},
{"s":"l","x":2010,"y":-0.014},{"s":"l","x":2012,"y":-0.013},{"s":"l","x":2014,"y":-0.017},{"s":"l","x":2016,"y":-0.021},{"s":"l","x":2018,"y":-0.018},{"s":"l","x":2020,"y":-0.019},{"s":"l","x":2022,"y":-0.022},{"s":"l","x":2024,"y":-0.026},{"s":"l","x":2026,"y":-0.026},{"s":"l","x":2028,"y":-0.028},
{"s":"l","x":2030,"y":-0.027},{"s":"l","x":2032,"y":-0.029},{"s":"l","x":2034,"y":-0.030},{"s":"l","x":2036,"y":-0.031},{"s":"l","x":2038,"y":-0.033},{"s":"l","x":2040,"y":-0.034},{"s":"l","x":2042,"y":-0.036},{"s":"l","x":2044,"y":-0.042},{"s":"l","x":2046,"y":-0.048},{"s":"l","x":2048,"y":-0.049},
{"s":"l","x":2050,"y":-0.052},{"s":"l","x":2052,"y":-0.054},{"s":"l","x":2054,"y":-0.056},{"s":"l","x":2056,"y":-0.060},{"s":"l","x":2058,"y":-0.062},{"s":"l","x":2060,"y":-0.063},{"s":"l","x":2062,"y":-0.064},{"s":"l","x":2064,"y":-0.066},{"s":"l","x":2066,"y":-0.069},{"s":"l","x":2068,"y":-0.072},
{"s":"l","x":2070,"y":-0.076},{"s":"l","x":2072,"y":-0.078},{"s":"l","x":2074,"y":-0.080},{"s":"l","x":2076,"y":-0.082},{"s":"l","x":2078,"y":-0.084},{"s":"l","x":2080,"y":-0.092},{"s":"l","x":2082,"y":-0.091},{"s":"l","x":2084,"y":-0.094},{"s":"l","x":2086,"y":-0.097},{"s":"l","x":2088,"y":-0.100},
{"s":"l","x":2090,"y":-0.100},{"s":"l","x":2092,"y":-0.103},{"s":"l","x":2094,"y":-0.106},{"s":"l","x":2096,"y":-0.108},{"s":"l","x":2098,"y":-0.111},{"s":"l","x":2099,"y":-0.112}
],
"label":[{"t":"spatial aves"}]
},
"layer":[
{"data":{"name":"thin"},
 "mark":{"type":"line","strokeWidth":1,"clip":true},
 "encoding":{
  "x":{"field":"x","type":"quantitative","scale":{"domain":[2010,2099.5],"nice":false,"zero":false},
       "axis":{"orient":"bottom","values":[2010,2020,2030,2040,2050,2060,2070,2080,2090],"format":"d","labelPadding":8}},
  "y":{"field":"y","type":"quantitative","scale":{"domain":[-0.1617,0.0494],"nice":false,"zero":false},
       "axis":{"orient":"left","values":[0.04,0.02,0,-0.02,-0.04,-0.06,-0.08,-0.1,-0.12,-0.14,-0.16],"labelExpr":"round(datum.value*1000) % 40 == 0 ? format(datum.value, '.3f') : ''","labelPadding":4}},
  "color":{"field":"s","type":"nominal","scale":{"domain":["k1","c1","c2","m1","m2","g1","g2","r1","r2","b1","b2","b3"],"range":["#000000","#00ffff","#00ffff","#ff00ff","#ff00ff","#00e600","#00e600","#ff0000","#ff0000","#0000ff","#0000ff","#0000ff"]},"legend":null}
 }},
{"data":{"name":"thin"},
 "mark":{"type":"point","shape":"square","filled":true,"size":5,"opacity":1,"clip":true},
 "encoding":{
  "x":{"field":"x","type":"quantitative","axis":null},
  "y":{"field":"y","type":"quantitative","axis":null},
  "color":{"field":"s","type":"nominal","legend":null}
 }},
{"data":{"name":"thick"},
 "mark":{"type":"line","strokeWidth":2.6,"color":"black","clip":true},
 "encoding":{
  "x":{"field":"x","type":"quantitative","axis":{"orient":"top","values":[2010,2020,2030,2040,2050,2060,2070,2080,2090],"labels":false}},
  "y":{"field":"y","type":"quantitative","axis":{"orient":"right","values":[0.04,0.02,0,-0.02,-0.04,-0.06,-0.08,-0.1,-0.12,-0.14,-0.16],"labels":false}},
  "detail":{"field":"s","type":"nominal"}
 }},
{"data":{"name":"label"},
 "mark":{"type":"text","font":"Lato","fontSize":48,"fontWeight":"normal","color":"black","align":"center","baseline":"alphabetic"},
 "encoding":{
  "text":{"field":"t","type":"nominal"},
  "x":{"datum":2056.6,"type":"quantitative","axis":null},
  "y":{"datum":0.0305,"type":"quantitative","axis":null}
 }}
],
"resolve":{"axis":{"x":"independent","y":"independent"}}
}
